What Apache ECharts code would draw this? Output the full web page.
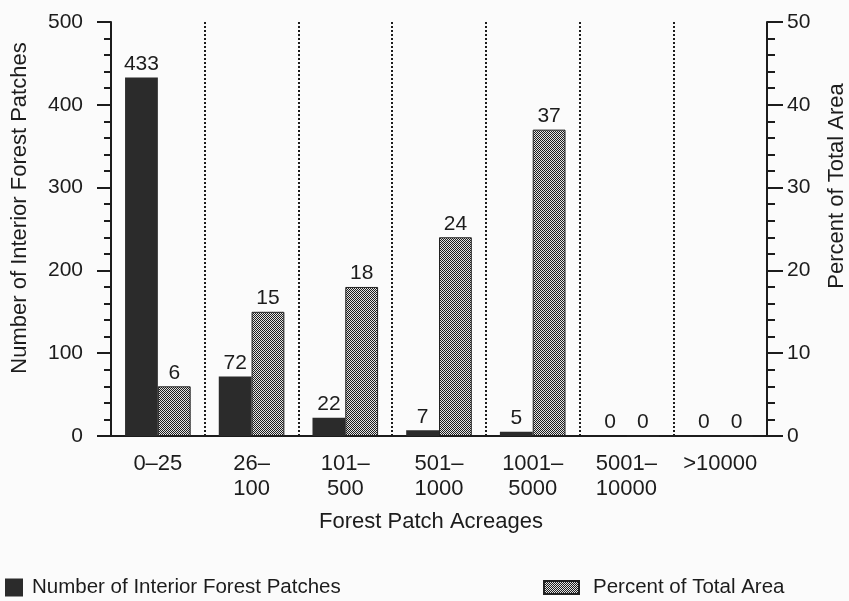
<!DOCTYPE html>
<html>
<head>
<meta charset="utf-8">
<script src="https://cdn.jsdelivr.net/npm/echarts@6/dist/echarts.min.js"></script>
<style>
  html, body { margin: 0; padding: 0; background: #fbfbfb; }
  #chart { width: 849px; height: 601px; }
</style>
</head>
<body>
<div id="chart"></div>
<script>
var categories = ['0–25', '26–\n100', '101–\n500', '501–\n1000', '1001–\n5000', '5001–\n10000', '>10000'];
var patchCounts = [433, 72, 22, 7, 5, 0, 0];
var areaPercents = [6, 15, 18, 24, 37, 0, 0];

// stippled fill for the percent bars
function makeDots() {
    var c = document.createElement('canvas');
    c.width = 4; c.height = 4;
    var ctx = c.getContext('2d');
    ctx.fillStyle = '#e4e4e4';
    ctx.fillRect(0, 0, 4, 4);
    ctx.fillStyle = '#1e1e1e';
    for (var y = 0; y < 4; y++) {
        for (var x = 0; x < 4; x++) {
            if ((x + y) % 2 === 0) ctx.fillRect(x, y, 1, 1);
        }
    }
    return c;
}

var font = '"Liberation Sans", Arial, Helvetica, sans-serif';
var ink = '#1c1c1c';
var dots = makeDots();

var myChart = echarts.init(document.getElementById('chart'));

var option = {
    backgroundColor: '#fbfbfb',
    textStyle: { fontFamily: font, color: ink },
    grid: { left: 111, right: 82, top: 22, bottom: 165, outerBoundsMode: 'none' },
    legend: [{
        data: ['Number of Interior Forest Patches'],
        icon: 'rect',
        left: 0, top: 572,
        itemWidth: 18, itemHeight: 18,
        textStyle: { fontSize: 20.5, color: ink, fontFamily: font, padding: [0, 0, 0, 4] }
    }, {
        data: ['Percent of Total Area'],
        icon: 'rect',
        left: 538, top: 572,
        itemWidth: 35, itemHeight: 13,
        textStyle: { fontSize: 20.5, color: ink, fontFamily: font, padding: [0, 0, 0, 9] }
    }],
    xAxis: [{
        type: 'category',
        data: categories,
        name: 'Forest Patch Acreages',
        nameLocation: 'middle',
        nameGap: 75,
        nameTextStyle: { fontSize: 22, color: ink, padding: [0, 16, 0, 0] },
        axisLine: { lineStyle: { color: ink, width: 2 } },
        axisTick: { length: 12, lineStyle: { color: ink, width: 2 } },
        axisLabel: { interval: 0, fontSize: 22, color: ink, lineHeight: 25, margin: 15 },
        splitLine: { show: true, lineStyle: { color: ink, type: 'dotted', width: 2 } }
    }, {
        type: 'category',
        data: categories,
        position: 'top',
        axisLine: { lineStyle: { color: ink, width: 2 } },
        axisTick: { show: false },
        axisLabel: { show: false }
    }],
    yAxis: [{
        type: 'value',
        min: 0, max: 500, interval: 100,
        name: 'Number of Interior Forest Patches',
        nameLocation: 'middle',
        nameGap: 80,
        nameTextStyle: { fontSize: 22, color: ink, padding: [0, 0, 0, 42] },
        axisLine: { show: true, lineStyle: { color: ink, width: 2 } },
        axisTick: { show: true, length: 14, lineStyle: { color: ink, width: 2 } },
        minorTick: { show: true, splitNumber: 5, length: 7, lineStyle: { color: ink, width: 2 } },
        axisLabel: { fontSize: 21, color: ink, margin: 28 },
        splitLine: { show: false }
    }, {
        type: 'value',
        min: 0, max: 50, interval: 10,
        name: 'Percent of Total Area',
        nameLocation: 'middle',
        nameGap: 59,
        nameTextStyle: { fontSize: 22, color: ink, padding: [0, 0, 0, 86] },
        axisLine: { show: true, lineStyle: { color: ink, width: 2 } },
        axisTick: { show: true, length: 16, lineStyle: { color: ink, width: 2 } },
        minorTick: { show: true, splitNumber: 5, length: 8, lineStyle: { color: ink, width: 2 } },
        axisLabel: { fontSize: 21, color: ink, margin: 20 },
        splitLine: { show: false }
    }],
    series: [{
        name: 'Number of Interior Forest Patches',
        type: 'bar',
        yAxisIndex: 0,
        barWidth: '35%',
        barGap: '0%',
        itemStyle: { color: '#2b2b2b' },
        label: { show: true, position: 'top', distance: 3, fontSize: 21, color: ink },
        data: patchCounts
    }, {
        name: 'Percent of Total Area',
        type: 'bar',
        yAxisIndex: 1,
        barWidth: '35%',
        itemStyle: {
            color: { image: dots, repeat: 'repeat' },
            borderColor: '#222', borderWidth: 1
        },
        label: { show: true, position: 'top', distance: 3, fontSize: 21, color: ink },
        data: areaPercents
    }]
};

myChart.setOption(option);
</script>
</body>
</html>
